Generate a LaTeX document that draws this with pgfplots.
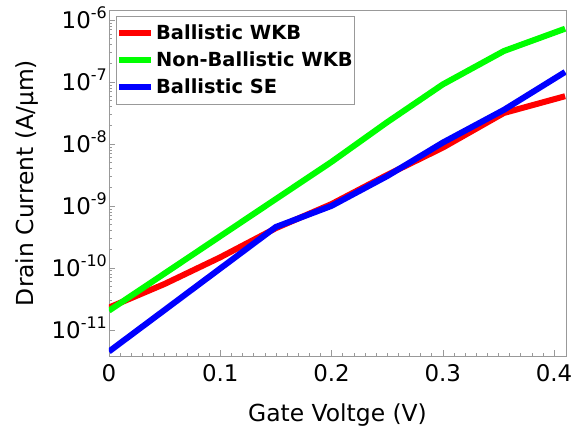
\documentclass[border=0pt]{standalone}
\usepackage{pgfplots}
\pgfplotsset{compat=1.18}
\usepackage{fontspec}
\setmainfont{DejaVu Sans}
\newcommand{\tl}[1]{10\raisebox{0.42em}{\fontsize{16}{16}\selectfont -#1}}
\begin{document}
\begin{tikzpicture}
\begin{axis}[
  scale only axis,
  width=457bp, height=346bp,
  ymode=log,
  xmin=0, xmax=0.4108,
  ymin=3.78e-12, ymax=1.45e-6,
  xtick={0,0.1,0.2,0.3,0.4},
  xticklabels={0,0.1,0.2,0.3,0.4},
  minor x tick num=9,
  ytick={1e-11,1e-10,1e-9,1e-8,1e-7,1e-6},
  yticklabels={\tl{11},\tl{10},\tl{9},\tl{8},\tl{7},\tl{6}},
  xtick pos=left, ytick pos=left,
  tick align=inside,
  major tick length=6bp, minor tick length=3bp,
  axis line style={gray!80},
  every tick/.style={gray!80},
  every minor tick/.style={gray!80},
  tick label style={font=\fontsize{23}{27}\selectfont},
  yticklabel style={anchor=base east, inner xsep=2bp, yshift=-8.4bp},
  xticklabel style={anchor=base, yshift=-25bp},
  xlabel={Gate Voltge (V)},
  ylabel={Drain Current (A/μm)},
  every axis x label/.style={at={(axis description cs:0.5,-0.19)}, anchor=base, font=\fontsize{23.5}{27}\selectfont},
  every axis y label/.style={at={(axis description cs:-0.179,0.5)}, anchor=center, rotate=90, font=\fontsize{23.5}{27}\selectfont},
  legend style={at={(rel axis cs:0.0153,0.983)}, anchor=north west, draw=gray!80,
    font=\bfseries\fontsize{19.5}{22}\selectfont, inner xsep=0pt, inner ysep=7bp,
    row sep=6.5bp, cells={anchor=west}},
  legend image code/.code={\draw[#1, line width=6bp] (0bp,0bp) -- (32bp,0bp);},
  every axis plot/.append style={line width=6bp},
]
\addplot[red] coordinates {(0,2.29e-11) (0.05,5.50e-11) (0.1,1.48e-10) (0.15,4.37e-10) (0.2,1.07e-9) (0.25,3.16e-9) (0.3,8.71e-9) (0.355,3.16e-8) (0.41,5.89e-8)};
\addlegendentry{Ballistic WKB}
\addplot[green] coordinates {(0,2.04e-11) (0.05,8.13e-11) (0.1,3.24e-10) (0.15,1.29e-9) (0.2,5.13e-9) (0.25,2.24e-8) (0.3,9.12e-8) (0.355,3.16e-7) (0.41,7.24e-7)};
\addlegendentry{Non-Ballistic WKB}
\addplot[blue] coordinates {(0,4.47e-12) (0.05,2.09e-11) (0.1,9.77e-11) (0.15,4.57e-10) (0.2,1.0e-9) (0.25,3.02e-9) (0.3,1.05e-8) (0.355,3.55e-8) (0.41,1.45e-7)};
\addlegendentry{Ballistic SE}
\end{axis}
\pgfresetboundingbox
\path[use as bounding box] (-109bp,-71bp) rectangle (478bp,356bp);
\end{tikzpicture}
\end{document}
